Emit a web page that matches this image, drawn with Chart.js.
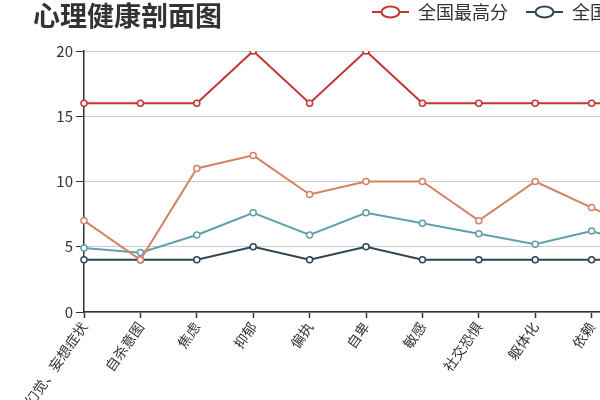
<!DOCTYPE html>
<html>
<head>
<meta charset="utf-8">
<script src="https://cdn.jsdelivr.net/npm/chart.js@4.4.1/dist/chart.umd.min.js"></script>
<style>
  html, body { margin: 0; padding: 0; overflow: hidden; background: #fff; }
</style>
</head>
<body>
<canvas id="profile-canvas" width="680" height="400"></canvas>
<script>
// categories (the chart runs on past the right edge, only the first ones are visible)
const categories = ['幻觉、妄想症状', '自杀意图', '焦虑', '抑郁', '偏执', '自卑', '敏感', '社交恐惧', '躯体化', '依赖', '敌对攻击'];
const seriesNames = ['全国最高分', '全国最低分', '全国平均分', '个人得分'];
const maxScores = [16, 16, 16, 20, 16, 20, 16, 16, 16, 16, 16];
const minScores = [4, 4, 4, 5, 4, 5, 4, 4, 4, 4, 4];
const avgScores = [4.9, 4.55, 5.9, 7.6, 5.9, 7.6, 6.8, 6.0, 5.2, 6.2, 4.9];
const myScores = [7, 4, 11, 12, 9, 10, 10, 7, 10, 8, 6];
const yTicks = [0, 5, 10, 15, 20];

const colors = ['#c23531', '#2f4554', '#61a0a8', '#d48265'];

// legend icon: line with an open circle, like the original
function makeIcon(color) {
  const c = document.createElement('canvas');
  c.width = 37; c.height = 14;
  const g = c.getContext('2d');
  g.strokeStyle = color;
  g.lineWidth = 2;
  g.beginPath(); g.moveTo(0, 7); g.lineTo(37, 7); g.stroke();
  g.beginPath(); g.ellipse(18.5, 7, 9, 5.5, 0, 0, Math.PI * 2);
  g.fillStyle = '#fff'; g.fill(); g.stroke();
  return c;
}
const icons = colors.map(makeIcon);

Chart.defaults.font.family = '"Noto Sans CJK SC", "Noto Sans", sans-serif';
Chart.defaults.color = '#333';

const seriesData = [maxScores, minScores, avgScores, myScores];

const datasets = seriesData.map((d, i) => ({
  label: seriesNames[i],
  data: d,
  borderColor: colors[i],
  backgroundColor: colors[i],
  borderWidth: 2,
  pointRadius: 3,
  pointBorderWidth: 1.5,
  pointBackgroundColor: '#fff',
  pointBorderColor: colors[i],
  tension: 0,
  order: 3 - i // later series on top
}));

const chart_profile = document.getElementById('profile-canvas');

new Chart(chart_profile, {
  type: 'line',
  data: { labels: categories, datasets: datasets },
  options: {
    responsive: false,
    animation: false,
    layout: { padding: { top: -15, left: 33, right: 0, bottom: 0 } },
    plugins: {
      title: {
        display: true,
        text: '心理健康剖面图',
        align: 'start',
        color: '#333',
        font: { size: 27, weight: 'bold' },
        padding: { top: -31.2, bottom: 18.8 },
        weight: 2000
      },
      legend: {
        display: true,
        position: 'top',
        align: 'end',
        weight: 3000,
        labels: {
          usePointStyle: true,
          pointStyleWidth: 37,
          padding: 18,
          color: '#333',
          font: { size: 18 },
          generateLabels(chart) {
            const items = Chart.defaults.plugins.legend.labels.generateLabels(chart);
            items.forEach(it => { it.pointStyle = icons[it.datasetIndex]; });
            return items;
          },
          filter: item => item.datasetIndex < 2,
          sort: (a, b) => a.datasetIndex - b.datasetIndex
        }
      },
      tooltip: { enabled: false }
    },
    scales: {
      x: {
        offset: false,
        grid: { display: true, drawOnChartArea: false, drawTicks: true, tickLength: 6, tickColor: '#333', tickWidth: 1.5 },
        border: { color: '#333', width: 1.5 },
        ticks: { autoSkip: false, minRotation: 55, maxRotation: 55, padding: 1, color: '#333', font: { size: 14 } },
        afterFit(scale) {
          scale.height = 88;
          scale.paddingRight = 32;
          scale.paddingLeft = 0;
        }
      },
      y: {
        min: 0,
        max: 20,
        afterBuildTicks(scale) { scale.ticks = yTicks.map(v => ({ value: v })); },
        grid: { color: '#ccc', tickColor: '#333', tickLength: 8, lineWidth: 1 },
        border: { color: '#333', width: 1.5 },
        ticks: { padding: 3, color: '#333', font: { size: 15 } },
        afterFit(scale) { scale.width = 51; }
      }
    }
  }
});
</script>
</body>
</html>
